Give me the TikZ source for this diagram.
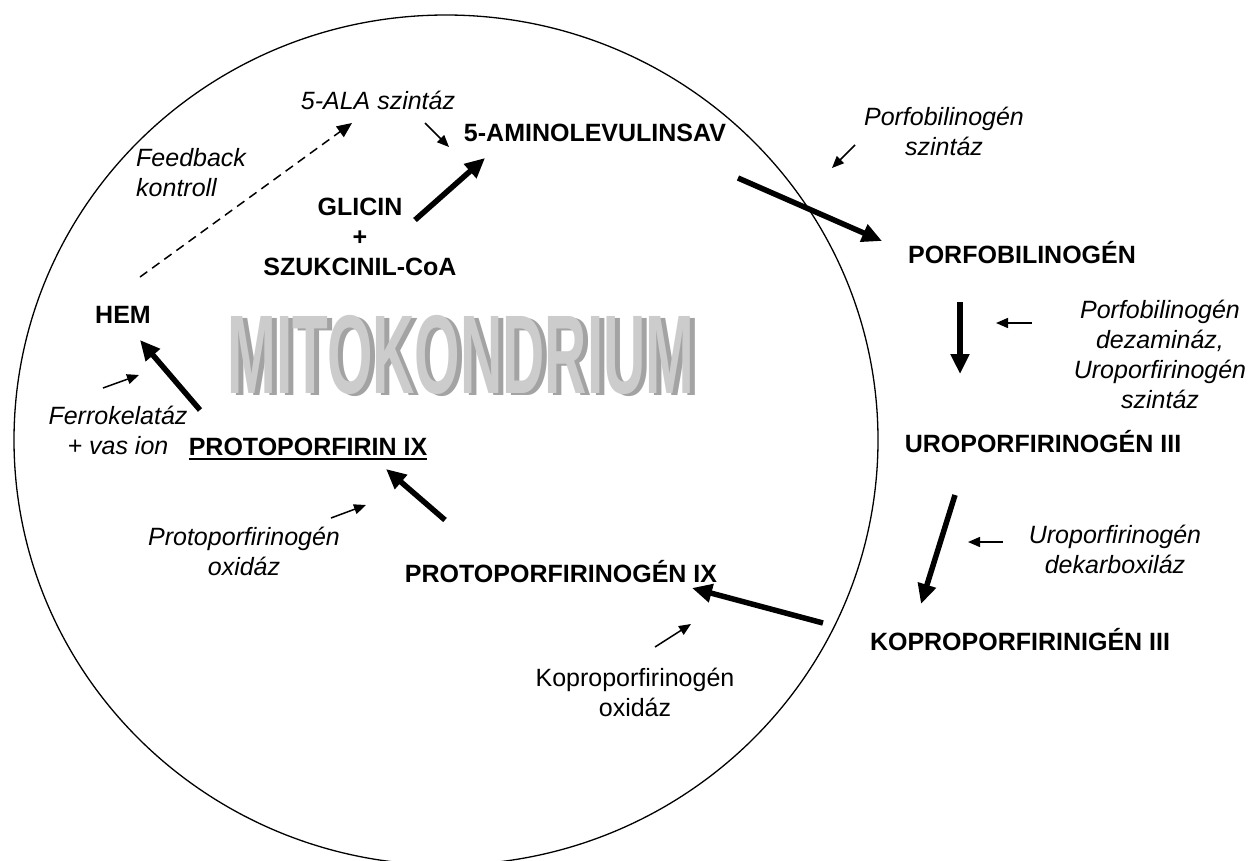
\documentclass[tikz,border=0pt]{standalone}
\usepackage{fontspec}
\setmainfont{Liberation Sans}
\usetikzlibrary{arrows.meta}
\begin{document}
\begin{tikzpicture}[x=1pt,y=-1pt,
  lab/.style={inner sep=0pt, align=center, font=\fontsize{25}{30}\selectfont},
  bl/.style={lab, font=\fontsize{25}{30}\selectfont\bfseries},
  it/.style={lab, font=\fontsize{25}{30}\selectfont\itshape},
  thickarr/.style={line width=5.5pt, -{Triangle[length=20pt,width=18pt]}},
  thinarr/.style={line width=1.5pt, -{Triangle[length=12pt,width=10pt]}},
  fbarr/.style={line width=1.5pt, dash pattern=on 9pt off 6pt, -{Triangle[length=15pt,width=13pt]}},
  wordart/.style={inner sep=0pt, font=\fontsize{100}{100}\selectfont\bfseries}
]
\useasboundingbox (0,0) rectangle (1249,860);
% mitochondrion outline
\draw[line width=1.3pt] (446,440) ellipse [x radius=432pt, y radius=425pt];

% word art
\node[wordart, text=gray!72] (mitoS) at (466,357) {\scalebox{0.585}[1.12]{MITOKONDRIUM}};
\node[wordart, text=gray!40] (mito) at (461,355) {\scalebox{0.585}[1.12]{MITOKONDRIUM}};

% labels
\node[it] (alasz) at (378,100) {5-ALA szintáz};
\node[bl] (ala) at (595,133) {5-AMINOLEVULINSAV};
\node[it, align=left, anchor=west] (feed) at (136,173) {Feedback\\kontroll};
\node[bl] (gl) at (360,237) {GLICIN\\+\\SZUKCINIL-CoA};
\node[it] (pbgsz) at (944,131) {Porfobilinogén\\szintáz};
\node[bl] (pbg) at (1022,253) {PORFOBILINOGÉN};
\node[it] (dez) at (1160,354) {Porfobilinogén\\dezamináz,\\Uroporfirinogén\\szintáz};
\node[bl] (uro) at (1043,442) {UROPORFIRINOGÉN III};
\node[it] (urodek) at (1115,549) {Uroporfirinogén\\dekarboxiláz};
\node[bl] (kopro) at (1020,640) {KOPROPORFIRINIGÉN III};
\node[bl] (protogen) at (561,572) {PROTOPORFIRINOGÉN IX};
\node[lab] (kopox) at (635,692) {Koproporfirinogén\\oxidáz};
\node[it] (protoox) at (244,551) {Protoporfirinogén\\oxidáz};
\node[bl] (p9) at (308,447) {PROTOPORFIRIN IX};
\draw[line width=2pt] ([yshift=-3pt]p9.south west) -- ([yshift=-3pt]p9.south east);
\node[bl] (hem) at (123,315) {HEM};
\node[it] (ferro) at (118,430) {Ferrokelatáz\\+ vas ion};

% connector end points
\coordinate (t1s) at (415,220); \coordinate (t1e) at (485,158);
\coordinate (t2s) at (738,178); \coordinate (t2e) at (882,241);
\coordinate (t3s) at (960,302); \coordinate (t3e) at (960,374);
\coordinate (t4s) at (955,495); \coordinate (t4e) at (921,604);
\coordinate (t5s) at (823,623); \coordinate (t5e) at (692,588);
\coordinate (t6s) at (445,520); \coordinate (t6e) at (386,469);
\coordinate (t7s) at (200,410); \coordinate (t7e) at (140,340);

\coordinate (s1s) at (425,123); \coordinate (s1e) at (449,147);
\coordinate (s2s) at (855,145); \coordinate (s2e) at (832,168);
\coordinate (s3s) at (1032,323); \coordinate (s3e) at (996,323);
\coordinate (s4s) at (1003,542); \coordinate (s4e) at (968,542);
\coordinate (s5s) at (655,647); \coordinate (s5e) at (691,624);
\coordinate (s6s) at (331,518); \coordinate (s6e) at (366,505);
\coordinate (s7s) at (103,388); \coordinate (s7e) at (139,375);

\coordinate (fbs) at (140,277); \coordinate (fbe) at (352,123);

% pathway arrows
\draw[thickarr] (t1s) -- (t1e);
\draw[thickarr] (t2s) -- (t2e);
\draw[thickarr] (t3s) -- (t3e);
\draw[thickarr] (t4s) -- (t4e);
\draw[thickarr] (t5s) -- (t5e);
\draw[thickarr] (t6s) -- (t6e);
\draw[thickarr] (t7s) -- (t7e);

% enzyme pointers
\draw[thinarr] (s1s) -- (s1e);
\draw[thinarr] (s2s) -- (s2e);
\draw[thinarr] (s3s) -- (s3e);
\draw[thinarr] (s4s) -- (s4e);
\draw[thinarr] (s5s) -- (s5e);
\draw[thinarr] (s6s) -- (s6e);
\draw[thinarr] (s7s) -- (s7e);

% feedback
\draw[fbarr] (fbs) -- (fbe);
\end{tikzpicture}
\end{document}
